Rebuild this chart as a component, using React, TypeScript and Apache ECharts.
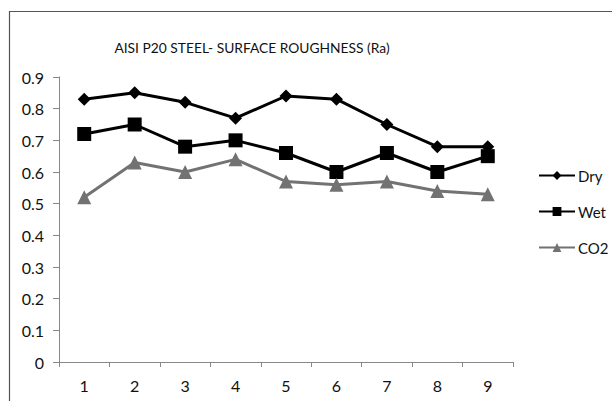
import React, { useEffect, useRef } from "react";
import * as echarts from "echarts";

const categories = ["1", "2", "3", "4", "5", "6", "7", "8", "9"];
const dryValues = [0.83, 0.85, 0.82, 0.77, 0.84, 0.83, 0.75, 0.68, 0.68];
const wetValues = [0.72, 0.75, 0.68, 0.7, 0.66, 0.6, 0.66, 0.6, 0.65];
const co2Values = [0.52, 0.63, 0.6, 0.64, 0.57, 0.56, 0.57, 0.54, 0.53];
const titleText = "AISI P20 STEEL- SURFACE ROUGHNESS (Ra)";

const FONT = "Lato, 'Open Sans', sans-serif";

export default function App() {
  const ref = useRef<HTMLDivElement>(null);
  useEffect(() => {
    if (!ref.current) return;
    const chart = echarts.init(ref.current, undefined, { renderer: "svg" });
    chart.setOption({
      animation: false,
      backgroundColor: "#ffffff",
      graphic: [
        {
          type: "rect",
          shape: { x: 9.5, y: 11.5, width: 640, height: 420 },
          style: { fill: "none", stroke: "#555", lineWidth: 1.2 },
          silent: true,
        },
        {
          type: "text",
          x: 252,
          y: 47,
          style: {
            text: titleText,
            fontFamily: FONT,
            fontSize: 13.8,
            fill: "#111",
            align: "center",
            verticalAlign: "middle",
          },
          silent: true,
        },
      ],
      legend: {
        orient: "vertical",
        left: 533,
        top: 163,
        itemWidth: 36,
        itemHeight: 11,
        itemGap: 21,
        textStyle: { fontFamily: FONT, fontSize: 15, color: "#111", padding: [0, 0, 0, -2] },
        data: ["Dry", "Wet", "CO2"],
      },
      grid: { left: 59, right: 99, top: 77, bottom: 39 },
      xAxis: {
        type: "category",
        data: categories,
        boundaryGap: true,
        axisLine: { lineStyle: { color: "#888", width: 1 } },
        axisTick: { show: true, length: 5, lineStyle: { color: "#888" } },
        axisLabel: { fontFamily: FONT, fontSize: 16, color: "#111", margin: 15 },
      },
      yAxis: {
        type: "value",
        min: 0,
        max: 0.9,
        interval: 0.1,
        splitLine: { show: false },
        axisLine: { show: true, lineStyle: { color: "#888", width: 1 } },
        axisTick: { show: true, length: 6, lineStyle: { color: "#888" } },
        axisLabel: { fontFamily: FONT, fontSize: 16, color: "#111", margin: 15 },
      },
      series: [
        {
          name: "Dry",
          type: "line",
          data: dryValues,
          symbol: "diamond",
          symbolSize: 13,
          lineStyle: { color: "#000", width: 3 },
          itemStyle: { color: "#000" },
        },
        {
          name: "Wet",
          type: "line",
          data: wetValues,
          symbol: "rect",
          symbolSize: 14,
          lineStyle: { color: "#000", width: 3 },
          itemStyle: { color: "#000" },
        },
        {
          name: "CO2",
          type: "line",
          data: co2Values,
          symbol: "triangle",
          symbolSize: 14,
          lineStyle: { color: "#727272", width: 3 },
          itemStyle: { color: "#727272" },
        },
      ],
    });
    return () => chart.dispose();
  }, []);
  return (
    <div
      ref={ref}
      style={{ position: "fixed", left: 0, top: 0, width: 612, height: 401 }}
    />
  );
}
